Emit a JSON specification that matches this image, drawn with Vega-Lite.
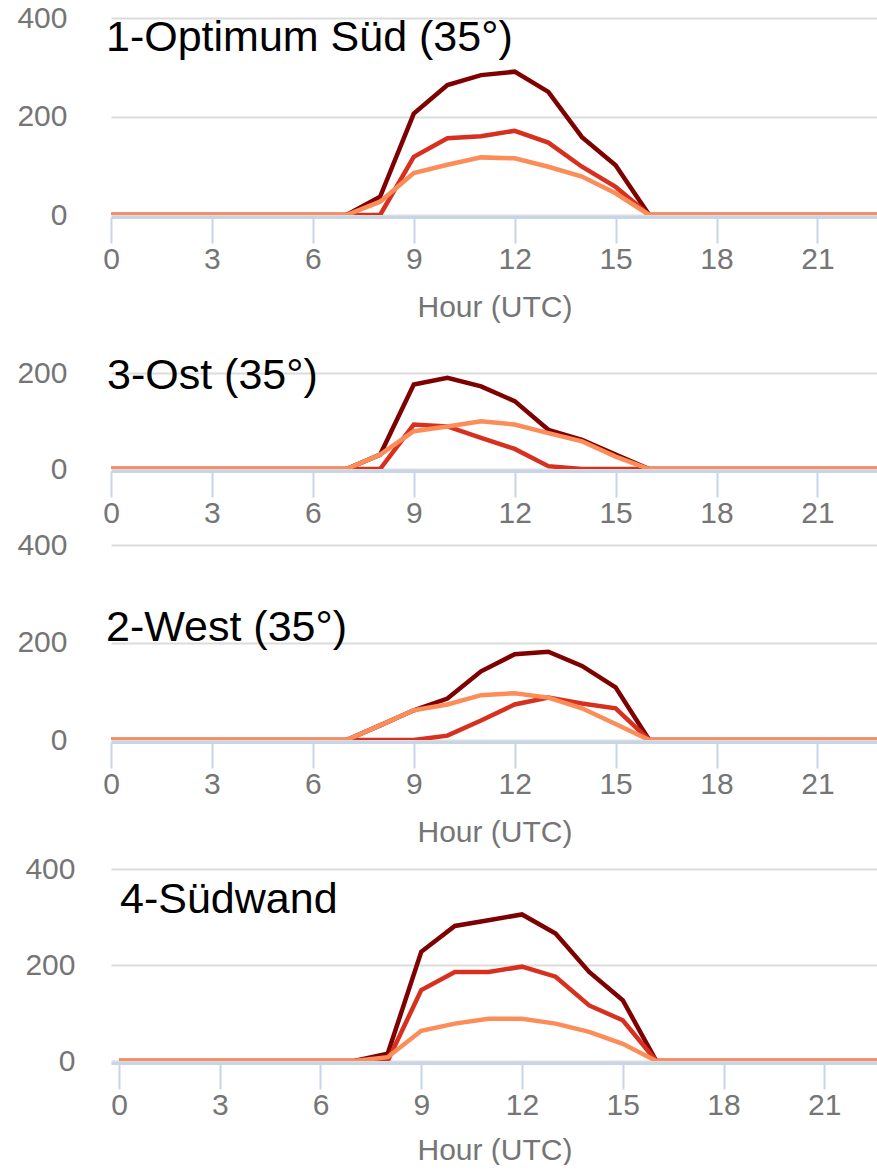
{
  "$schema": "https://vega.github.io/schema/vega-lite/v6.json",
  "padding": {"top": 3, "left": 16, "right": 0, "bottom": 0},
  "bounds": "flush",
  "spacing": 60,
  "config": {
    "view": {"stroke": null},
    "font": "Liberation Sans",
    "axis": {"labelFont": "Liberation Sans", "titleFont": "Liberation Sans", "labelFontSize": 30, "titleFontSize": 30, "labelColor": "#757575", "titleColor": "#757575", "titleFontWeight": "normal"},
    "axisX": {"grid": false, "domainColor": "#c7d5e8", "domainWidth": 3, "tickColor": "#c7d5e8", "tickWidth": 2, "tickSize": 26, "labelPadding": 1, "titlePadding": 18, "offset": 2, "labelFlush": false, "labelOverlap": false},
    "axisY": {"domain": false, "ticks": false, "gridColor": "#dcdcdc", "gridWidth": 2, "labelPadding": 44},
    "title": {"font": "Liberation Sans", "fontSize": 43, "fontWeight": "normal", "color": "#000000", "anchor": "start", "frame": "group"}
  },
  "datasets": {
    "d": [
      {"p":1,"s":"S1","h":0,"v":0},{"p":1,"s":"S1","h":1,"v":0},{"p":1,"s":"S1","h":2,"v":0},{"p":1,"s":"S1","h":3,"v":0},{"p":1,"s":"S1","h":4,"v":0},{"p":1,"s":"S1","h":5,"v":0},{"p":1,"s":"S1","h":6,"v":0},{"p":1,"s":"S1","h":7,"v":0},{"p":1,"s":"S1","h":8,"v":37},{"p":1,"s":"S1","h":9,"v":206},{"p":1,"s":"S1","h":10,"v":264},{"p":1,"s":"S1","h":11,"v":284},{"p":1,"s":"S1","h":12,"v":291},{"p":1,"s":"S1","h":13,"v":250},{"p":1,"s":"S1","h":14,"v":158},{"p":1,"s":"S1","h":15,"v":101},{"p":1,"s":"S1","h":16,"v":0},{"p":1,"s":"S1","h":17,"v":0},{"p":1,"s":"S1","h":18,"v":0},{"p":1,"s":"S1","h":19,"v":0},{"p":1,"s":"S1","h":20,"v":0},{"p":1,"s":"S1","h":21,"v":0},{"p":1,"s":"S1","h":22,"v":0},{"p":1,"s":"S1","h":23,"v":0},
      {"p":1,"s":"S2","h":0,"v":0},{"p":1,"s":"S2","h":1,"v":0},{"p":1,"s":"S2","h":2,"v":0},{"p":1,"s":"S2","h":3,"v":0},{"p":1,"s":"S2","h":4,"v":0},{"p":1,"s":"S2","h":5,"v":0},{"p":1,"s":"S2","h":6,"v":0},{"p":1,"s":"S2","h":7,"v":0},{"p":1,"s":"S2","h":8,"v":0},{"p":1,"s":"S2","h":9,"v":118},{"p":1,"s":"S2","h":10,"v":156},{"p":1,"s":"S2","h":11,"v":160},{"p":1,"s":"S2","h":12,"v":171},{"p":1,"s":"S2","h":13,"v":147},{"p":1,"s":"S2","h":14,"v":98},{"p":1,"s":"S2","h":15,"v":57},{"p":1,"s":"S2","h":16,"v":0},{"p":1,"s":"S2","h":17,"v":0},{"p":1,"s":"S2","h":18,"v":0},{"p":1,"s":"S2","h":19,"v":0},{"p":1,"s":"S2","h":20,"v":0},{"p":1,"s":"S2","h":21,"v":0},{"p":1,"s":"S2","h":22,"v":0},{"p":1,"s":"S2","h":23,"v":0},
      {"p":1,"s":"S3","h":0,"v":0},{"p":1,"s":"S3","h":1,"v":0},{"p":1,"s":"S3","h":2,"v":0},{"p":1,"s":"S3","h":3,"v":0},{"p":1,"s":"S3","h":4,"v":0},{"p":1,"s":"S3","h":5,"v":0},{"p":1,"s":"S3","h":6,"v":0},{"p":1,"s":"S3","h":7,"v":0},{"p":1,"s":"S3","h":8,"v":27},{"p":1,"s":"S3","h":9,"v":85},{"p":1,"s":"S3","h":10,"v":102},{"p":1,"s":"S3","h":11,"v":117},{"p":1,"s":"S3","h":12,"v":115},{"p":1,"s":"S3","h":13,"v":98},{"p":1,"s":"S3","h":14,"v":78},{"p":1,"s":"S3","h":15,"v":44},{"p":1,"s":"S3","h":16,"v":0},{"p":1,"s":"S3","h":17,"v":0},{"p":1,"s":"S3","h":18,"v":0},{"p":1,"s":"S3","h":19,"v":0},{"p":1,"s":"S3","h":20,"v":0},{"p":1,"s":"S3","h":21,"v":0},{"p":1,"s":"S3","h":22,"v":0},{"p":1,"s":"S3","h":23,"v":0},
      {"p":2,"s":"S1","h":0,"v":0},{"p":2,"s":"S1","h":1,"v":0},{"p":2,"s":"S1","h":2,"v":0},{"p":2,"s":"S1","h":3,"v":0},{"p":2,"s":"S1","h":4,"v":0},{"p":2,"s":"S1","h":5,"v":0},{"p":2,"s":"S1","h":6,"v":0},{"p":2,"s":"S1","h":7,"v":0},{"p":2,"s":"S1","h":8,"v":30},{"p":2,"s":"S1","h":9,"v":177},{"p":2,"s":"S1","h":10,"v":191},{"p":2,"s":"S1","h":11,"v":173},{"p":2,"s":"S1","h":12,"v":142},{"p":2,"s":"S1","h":13,"v":82},{"p":2,"s":"S1","h":14,"v":61},{"p":2,"s":"S1","h":15,"v":30},{"p":2,"s":"S1","h":16,"v":0},{"p":2,"s":"S1","h":17,"v":0},{"p":2,"s":"S1","h":18,"v":0},{"p":2,"s":"S1","h":19,"v":0},{"p":2,"s":"S1","h":20,"v":0},{"p":2,"s":"S1","h":21,"v":0},{"p":2,"s":"S1","h":22,"v":0},{"p":2,"s":"S1","h":23,"v":0},
      {"p":2,"s":"S2","h":0,"v":0},{"p":2,"s":"S2","h":1,"v":0},{"p":2,"s":"S2","h":2,"v":0},{"p":2,"s":"S2","h":3,"v":0},{"p":2,"s":"S2","h":4,"v":0},{"p":2,"s":"S2","h":5,"v":0},{"p":2,"s":"S2","h":6,"v":0},{"p":2,"s":"S2","h":7,"v":0},{"p":2,"s":"S2","h":8,"v":0},{"p":2,"s":"S2","h":9,"v":93},{"p":2,"s":"S2","h":10,"v":89},{"p":2,"s":"S2","h":11,"v":65},{"p":2,"s":"S2","h":12,"v":42},{"p":2,"s":"S2","h":13,"v":6},{"p":2,"s":"S2","h":14,"v":0},{"p":2,"s":"S2","h":15,"v":0},{"p":2,"s":"S2","h":16,"v":0},{"p":2,"s":"S2","h":17,"v":0},{"p":2,"s":"S2","h":18,"v":0},{"p":2,"s":"S2","h":19,"v":0},{"p":2,"s":"S2","h":20,"v":0},{"p":2,"s":"S2","h":21,"v":0},{"p":2,"s":"S2","h":22,"v":0},{"p":2,"s":"S2","h":23,"v":0},
      {"p":2,"s":"S3","h":0,"v":0},{"p":2,"s":"S3","h":1,"v":0},{"p":2,"s":"S3","h":2,"v":0},{"p":2,"s":"S3","h":3,"v":0},{"p":2,"s":"S3","h":4,"v":0},{"p":2,"s":"S3","h":5,"v":0},{"p":2,"s":"S3","h":6,"v":0},{"p":2,"s":"S3","h":7,"v":0},{"p":2,"s":"S3","h":8,"v":30},{"p":2,"s":"S3","h":9,"v":79},{"p":2,"s":"S3","h":10,"v":89},{"p":2,"s":"S3","h":11,"v":100},{"p":2,"s":"S3","h":12,"v":93},{"p":2,"s":"S3","h":13,"v":75},{"p":2,"s":"S3","h":14,"v":58},{"p":2,"s":"S3","h":15,"v":26},{"p":2,"s":"S3","h":16,"v":0},{"p":2,"s":"S3","h":17,"v":0},{"p":2,"s":"S3","h":18,"v":0},{"p":2,"s":"S3","h":19,"v":0},{"p":2,"s":"S3","h":20,"v":0},{"p":2,"s":"S3","h":21,"v":0},{"p":2,"s":"S3","h":22,"v":0},{"p":2,"s":"S3","h":23,"v":0},
      {"p":3,"s":"S1","h":0,"v":0},{"p":3,"s":"S1","h":1,"v":0},{"p":3,"s":"S1","h":2,"v":0},{"p":3,"s":"S1","h":3,"v":0},{"p":3,"s":"S1","h":4,"v":0},{"p":3,"s":"S1","h":5,"v":0},{"p":3,"s":"S1","h":6,"v":0},{"p":3,"s":"S1","h":7,"v":0},{"p":3,"s":"S1","h":8,"v":30},{"p":3,"s":"S1","h":9,"v":61},{"p":3,"s":"S1","h":10,"v":85},{"p":3,"s":"S1","h":11,"v":141},{"p":3,"s":"S1","h":12,"v":176},{"p":3,"s":"S1","h":13,"v":181},{"p":3,"s":"S1","h":14,"v":152},{"p":3,"s":"S1","h":15,"v":108},{"p":3,"s":"S1","h":16,"v":0},{"p":3,"s":"S1","h":17,"v":0},{"p":3,"s":"S1","h":18,"v":0},{"p":3,"s":"S1","h":19,"v":0},{"p":3,"s":"S1","h":20,"v":0},{"p":3,"s":"S1","h":21,"v":0},{"p":3,"s":"S1","h":22,"v":0},{"p":3,"s":"S1","h":23,"v":0},
      {"p":3,"s":"S2","h":0,"v":0},{"p":3,"s":"S2","h":1,"v":0},{"p":3,"s":"S2","h":2,"v":0},{"p":3,"s":"S2","h":3,"v":0},{"p":3,"s":"S2","h":4,"v":0},{"p":3,"s":"S2","h":5,"v":0},{"p":3,"s":"S2","h":6,"v":0},{"p":3,"s":"S2","h":7,"v":0},{"p":3,"s":"S2","h":8,"v":0},{"p":3,"s":"S2","h":9,"v":0},{"p":3,"s":"S2","h":10,"v":9},{"p":3,"s":"S2","h":11,"v":40},{"p":3,"s":"S2","h":12,"v":73},{"p":3,"s":"S2","h":13,"v":87},{"p":3,"s":"S2","h":14,"v":75},{"p":3,"s":"S2","h":15,"v":65},{"p":3,"s":"S2","h":16,"v":0},{"p":3,"s":"S2","h":17,"v":0},{"p":3,"s":"S2","h":18,"v":0},{"p":3,"s":"S2","h":19,"v":0},{"p":3,"s":"S2","h":20,"v":0},{"p":3,"s":"S2","h":21,"v":0},{"p":3,"s":"S2","h":22,"v":0},{"p":3,"s":"S2","h":23,"v":0},
      {"p":3,"s":"S3","h":0,"v":0},{"p":3,"s":"S3","h":1,"v":0},{"p":3,"s":"S3","h":2,"v":0},{"p":3,"s":"S3","h":3,"v":0},{"p":3,"s":"S3","h":4,"v":0},{"p":3,"s":"S3","h":5,"v":0},{"p":3,"s":"S3","h":6,"v":0},{"p":3,"s":"S3","h":7,"v":0},{"p":3,"s":"S3","h":8,"v":30},{"p":3,"s":"S3","h":9,"v":61},{"p":3,"s":"S3","h":10,"v":73},{"p":3,"s":"S3","h":11,"v":92},{"p":3,"s":"S3","h":12,"v":96},{"p":3,"s":"S3","h":13,"v":87},{"p":3,"s":"S3","h":14,"v":65},{"p":3,"s":"S3","h":15,"v":33},{"p":3,"s":"S3","h":16,"v":0},{"p":3,"s":"S3","h":17,"v":0},{"p":3,"s":"S3","h":18,"v":0},{"p":3,"s":"S3","h":19,"v":0},{"p":3,"s":"S3","h":20,"v":0},{"p":3,"s":"S3","h":21,"v":0},{"p":3,"s":"S3","h":22,"v":0},{"p":3,"s":"S3","h":23,"v":0},
      {"p":4,"s":"S1","h":0,"v":0},{"p":4,"s":"S1","h":1,"v":0},{"p":4,"s":"S1","h":2,"v":0},{"p":4,"s":"S1","h":3,"v":0},{"p":4,"s":"S1","h":4,"v":0},{"p":4,"s":"S1","h":5,"v":0},{"p":4,"s":"S1","h":6,"v":0},{"p":4,"s":"S1","h":7,"v":0},{"p":4,"s":"S1","h":8,"v":15},{"p":4,"s":"S1","h":9,"v":228},{"p":4,"s":"S1","h":10,"v":282},{"p":4,"s":"S1","h":11,"v":294},{"p":4,"s":"S1","h":12,"v":306},{"p":4,"s":"S1","h":13,"v":266},{"p":4,"s":"S1","h":14,"v":186},{"p":4,"s":"S1","h":15,"v":127},{"p":4,"s":"S1","h":16,"v":0},{"p":4,"s":"S1","h":17,"v":0},{"p":4,"s":"S1","h":18,"v":0},{"p":4,"s":"S1","h":19,"v":0},{"p":4,"s":"S1","h":20,"v":0},{"p":4,"s":"S1","h":21,"v":0},{"p":4,"s":"S1","h":22,"v":0},{"p":4,"s":"S1","h":23,"v":0},
      {"p":4,"s":"S2","h":0,"v":0},{"p":4,"s":"S2","h":1,"v":0},{"p":4,"s":"S2","h":2,"v":0},{"p":4,"s":"S2","h":3,"v":0},{"p":4,"s":"S2","h":4,"v":0},{"p":4,"s":"S2","h":5,"v":0},{"p":4,"s":"S2","h":6,"v":0},{"p":4,"s":"S2","h":7,"v":0},{"p":4,"s":"S2","h":8,"v":0},{"p":4,"s":"S2","h":9,"v":148},{"p":4,"s":"S2","h":10,"v":186},{"p":4,"s":"S2","h":11,"v":186},{"p":4,"s":"S2","h":12,"v":197},{"p":4,"s":"S2","h":13,"v":176},{"p":4,"s":"S2","h":14,"v":116},{"p":4,"s":"S2","h":15,"v":85},{"p":4,"s":"S2","h":16,"v":0},{"p":4,"s":"S2","h":17,"v":0},{"p":4,"s":"S2","h":18,"v":0},{"p":4,"s":"S2","h":19,"v":0},{"p":4,"s":"S2","h":20,"v":0},{"p":4,"s":"S2","h":21,"v":0},{"p":4,"s":"S2","h":22,"v":0},{"p":4,"s":"S2","h":23,"v":0},
      {"p":4,"s":"S3","h":0,"v":0},{"p":4,"s":"S3","h":1,"v":0},{"p":4,"s":"S3","h":2,"v":0},{"p":4,"s":"S3","h":3,"v":0},{"p":4,"s":"S3","h":4,"v":0},{"p":4,"s":"S3","h":5,"v":0},{"p":4,"s":"S3","h":6,"v":0},{"p":4,"s":"S3","h":7,"v":0},{"p":4,"s":"S3","h":8,"v":8},{"p":4,"s":"S3","h":9,"v":63},{"p":4,"s":"S3","h":10,"v":78},{"p":4,"s":"S3","h":11,"v":88},{"p":4,"s":"S3","h":12,"v":88},{"p":4,"s":"S3","h":13,"v":78},{"p":4,"s":"S3","h":14,"v":61},{"p":4,"s":"S3","h":15,"v":36},{"p":4,"s":"S3","h":16,"v":0},{"p":4,"s":"S3","h":17,"v":0},{"p":4,"s":"S3","h":18,"v":0},{"p":4,"s":"S3","h":19,"v":0},{"p":4,"s":"S3","h":20,"v":0},{"p":4,"s":"S3","h":21,"v":0},{"p":4,"s":"S3","h":22,"v":0},{"p":4,"s":"S3","h":23,"v":0}
    ]
  },
  "vconcat": [
    {
      "data": {"name": "d"},
      "transform": [{"filter": "datum.p == 1"}],
      "width": 767, "height": 197,
      "title": {"text": "1-Optimum Süd (35°)", "offset": -57, "dx": -5},
      "mark": {"type": "line", "strokeWidth": 4.5, "clip": true},
      "encoding": {
        "x": {"field": "h", "type": "quantitative", "scale": {"domain": [0, 22.8], "nice": false, "zero": false}, "axis": {"values": [0,3,6,9,12,15,18,21], "title": "Hour (UTC)"}},
        "y": {"field": "v", "type": "quantitative", "scale": {"domain": [0, 400], "nice": false}, "axis": {"values": [0,200,400], "title": null}},
        "color": {"field": "s", "type": "nominal", "scale": {"domain": ["S1","S2","S3"], "range": ["#7f0000","#d7301f","#fc8d59"]}, "legend": null}
      }
    },
    {
      "data": {"name": "d"},
      "transform": [{"filter": "datum.p == 2"}],
      "width": 767, "height": 194,
      "title": {"text": "3-Ost (35°)", "offset": -123, "dx": -4},
      "mark": {"type": "line", "strokeWidth": 4.5, "clip": true},
      "encoding": {
        "x": {"field": "h", "type": "quantitative", "scale": {"domain": [0, 22.8], "nice": false, "zero": false}, "axis": {"values": [0,3,6,9,12,15,18,21], "title": null}},
        "y": {"field": "v", "type": "quantitative", "scale": {"domain": [0, 406], "nice": false}, "axis": {"values": [0,200], "title": null}},
        "color": {"field": "s", "type": "nominal", "scale": {"domain": ["S1","S2","S3"], "range": ["#7f0000","#d7301f","#fc8d59"]}, "legend": null}
      }
    },
    {
      "data": {"name": "d"},
      "transform": [{"filter": "datum.p == 3"}],
      "width": 767, "height": 211,
      "title": {"text": "2-West (35°)", "offset": -121, "dx": -5},
      "mark": {"type": "line", "strokeWidth": 4.5, "clip": true},
      "encoding": {
        "x": {"field": "h", "type": "quantitative", "scale": {"domain": [0, 22.8], "nice": false, "zero": false}, "axis": {"values": [0,3,6,9,12,15,18,21], "title": "Hour (UTC)"}},
        "y": {"field": "v", "type": "quantitative", "scale": {"domain": [0, 433], "nice": false}, "axis": {"values": [0,200,400], "title": null}},
        "color": {"field": "s", "type": "nominal", "scale": {"domain": ["S1","S2","S3"], "range": ["#7f0000","#d7301f","#fc8d59"]}, "legend": null}
      }
    },
    {
      "data": {"name": "d"},
      "transform": [{"filter": "datum.p == 4"}],
      "width": 767, "height": 261,
      "title": {"text": "4-Südwand", "offset": -122, "dx": 9},
      "mark": {"type": "line", "strokeWidth": 4.5, "clip": true},
      "encoding": {
        "x": {"field": "h", "type": "quantitative", "scale": {"domain": [-0.238, 22.6], "nice": false, "zero": false}, "axis": {"values": [0,3,6,9,12,15,18,21], "title": "Hour (UTC)", "titlePadding": 15}},
        "y": {"field": "v", "type": "quantitative", "scale": {"domain": [0, 545], "nice": false}, "axis": {"values": [0,200,400], "title": null, "labelPadding": 36}},
        "color": {"field": "s", "type": "nominal", "scale": {"domain": ["S1","S2","S3"], "range": ["#7f0000","#d7301f","#fc8d59"]}, "legend": null}
      }
    }
  ]
}
